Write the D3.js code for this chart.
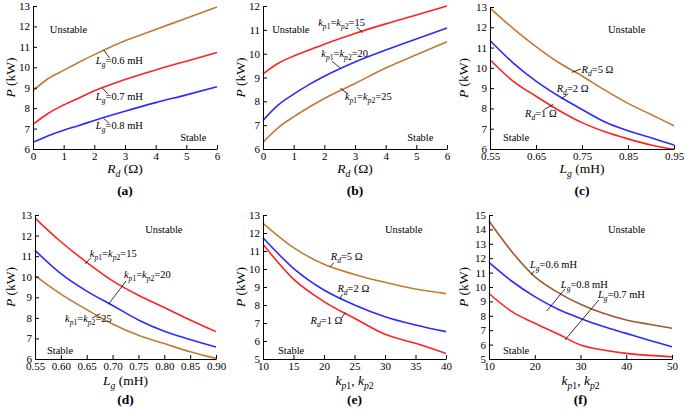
<!DOCTYPE html>
<html><head><meta charset="utf-8">
<script src="https://cdn.jsdelivr.net/npm/d3@7"></script>
<style>
body{margin:0;background:#fff}
svg text{font-family:'Liberation Serif','Tinos','Times New Roman','Times','DejaVu Serif',serif;fill:#000}
</style>
</head><body>
<svg id="c" width="685" height="410"></svg>
<script>
// ---------- DATA ----------
// (a) P vs Rd for different Lg
const aX = [0, 0.5, 1, 1.5, 2, 3, 4, 5, 6];
const aLg06 = [8.85, 9.45, 9.85, 10.25, 10.62, 11.3, 11.85, 12.4, 12.95];
const aLg07 = [7.2, 7.75, 8.15, 8.5, 8.85, 9.4, 9.87, 10.3, 10.72];
const aLg08 = [6.33, 6.65, 6.92, 7.15, 7.4, 7.85, 8.27, 8.65, 9.05];
// (b) P vs Rd for different kp
const bX = [0, 0.5, 1, 1.5, 2, 3, 4, 5, 6];
const bKp15 = [9.15, 9.6, 9.9, 10.15, 10.4, 10.85, 11.25, 11.62, 12.0];
const bKp20 = [7.2, 7.85, 8.3, 8.7, 9.05, 9.65, 10.15, 10.62, 11.08];
const bKp25 = [6.28, 6.9, 7.35, 7.75, 8.12, 8.75, 9.4, 9.95, 10.5];
// (c) P vs Lg for different Rd
const cX = [0.55, 0.60, 0.65, 0.70, 0.75, 0.80, 0.85, 0.90, 0.95];
const cRd5 = [12.95, 11.95, 11.05, 10.25, 9.6, 8.9, 8.25, 7.7, 7.15];
const cRd2 = [11.35, 10.25, 9.35, 8.6, 7.95, 7.33, 6.9, 6.55, 6.2];
const cRd1 = [10.4, 9.35, 8.6, 7.9, 7.3, 6.85, 6.5, 6.2, 5.98];
// (d) P vs Lg for different kp
const dX = [0.55, 0.60, 0.65, 0.70, 0.75, 0.80, 0.85, 0.90];
const dKp15 = [12.85, 11.7, 10.7, 9.8, 9.1, 8.5, 7.9, 7.33];
const dKp20 = [11.28, 10.15, 9.3, 8.6, 7.9, 7.35, 6.95, 6.58];
const dKp25 = [10.05, 9.15, 8.4, 7.7, 7.15, 6.75, 6.35, 6.03];
// (e) P vs kp for different Rd
const eX = [10, 15, 20, 25, 30, 35, 40];
const eRd5 = [12.54, 11.19, 10.26, 9.7, 9.26, 8.89, 8.63];
const eRd2 = [11.74, 10.04, 8.83, 8.0, 7.35, 6.89, 6.52];
const eRd1 = [11.37, 9.44, 8.19, 7.26, 6.37, 5.87, 5.31];
// (f) P vs kp for different Lg
const fX = [10, 15, 20, 25, 30, 35, 40, 45, 50];
const fLg06 = [14.58, 12.45, 10.72, 9.63, 8.8, 8.17, 7.71, 7.41, 7.13];
const fLg08 = [11.71, 10.4, 9.33, 8.47, 7.82, 7.25, 6.78, 6.3, 5.85];
const fLg07 = [9.55, 8.29, 7.48, 6.75, 5.97, 5.62, 5.39, 5.25, 5.16];

// tick labels
const xTicksA = ["0", "1", "2", "3", "4", "5", "6"];
const yTicksA = ["6", "7", "8", "9", "10", "11", "12", "13"];
const yTicksB = ["6", "7", "8", "9", "10", "11", "12"];
const xTicksC = ["0.55", "0.65", "0.75", "0.85", "0.95"];
const xTicksD = ["0.55", "0.60", "0.65", "0.70", "0.75", "0.80", "0.85", "0.90"];
const yTicksE = ["5", "6", "7", "8", "9", "10", "11", "12", "13"];
const xTicksE = ["10", "15", "20", "25", "30", "35", "40"];
const xTicksF = ["10", "20", "30", "40", "50"];
const yTicksF = ["5", "6", "7", "8", "9", "10", "11", "12", "13", "14", "15"];

// ---------- RICH TEXT PIECES ----------
const LG = [["L", 1], ["g", 1, 1]];
const RD = [["R", 1], ["d", 1, 1]];
const KP = [["k", 1], ["p", 1, 1], ["1", 0, 1], ["=", 0], ["k", 1], ["p", 1, 1], ["2", 0, 1], ["=", 0]];
const titleP = [["P", 1], [" (kW)", 0]];
const titleRd = [...RD, [" (Ω)", 0]];
const titleLg = [...LG, [" (mH)", 0]];
const titleKp = [["k", 1], ["p", 1, 1], ["1", 0, 1], [", ", 0], ["k", 1], ["p", 1, 1], ["2", 0, 1]];

const BROWN = "#c27a35", RED = "#ff2222", BLUE = "#2b2bff", DBROWN = "#a4562c";
const FONT = "'Liberation Serif','Tinos','Times New Roman','Times','DejaVu Serif',serif";
const TICK = 11, NOTE = 10.5, TITLE = 13.5;

// panel layout
const panels = [
  {id: "(a)", box: [33, 217, 6, 149], xd: [0, 6], yd: [6, 13], xt: xTicksA, yt: yTicksA, titleX: titleRd, tx: 11,
   series: [[aX, aLg06, BROWN], [aX, aLg07, RED], [aX, aLg08, BLUE]],
   notes: [["Unstable", 0.55, 11.68], ["Stable", 4.8, 6.39]],
   ann: [[[...LG, ["=0.6 mH", 0]], 2.05, 10.15, 2.3, 10.85, 2.5, 10.45],
         [[...LG, ["=0.7 mH", 0]], 2.05, 8.4, 2.25, 9.0, 2.45, 8.68],
         [[...LG, ["=0.8 mH", 0]], 2.05, 6.98, 2.3, 7.5, 2.48, 7.25]]},
  {id: "(b)", box: [263, 447, 6, 149], xd: [0, 6], yd: [6, 12], xt: xTicksA, yt: yTicksB, titleX: titleRd, tx: 241,
   series: [[bX, bKp15, RED], [bX, bKp20, BLUE], [bX, bKp25, BROWN]],
   notes: [["Unstable", 0.3, 10.87], ["Stable", 4.7, 6.34]],
   ann: [[[...KP, ["15", 0]], 1.8, 11.16, 3.05, 11.12, 3.25, 10.88],
         [[...KP, ["20", 0]], 1.9, 9.86, 2.25, 9.68, 2.52, 9.4],
         [[...KP, ["25", 0]], 2.67, 8.06, 2.52, 8.55, 2.78, 8.3]]},
  {id: "(c)", box: [490, 674, 7, 149], xd: [0.55, 0.95], yd: [6, 13], xt: xTicksC, yt: yTicksA, titleX: titleLg, tx: 464,
   series: [[cX, cRd5, BROWN], [cX, cRd2, BLUE], [cX, cRd1, RED]],
   notes: [["Unstable", 0.8065, 11.72], ["Stable", 0.578, 6.39]],
   ann: [[[...RD, ["=5 Ω", 0]], 0.749, 9.75, 0.728, 9.78, 0.748, 9.95],
         [[...RD, ["=2 Ω", 0]], 0.695, 8.82, 0.705, 8.47, 0.72, 8.72],
         [[...RD, ["=1 Ω", 0]], 0.626, 7.59, 0.668, 7.95, 0.688, 8.2]]},
  {id: "(d)", box: [35, 216, 215, 359], xd: [0.55, 0.90], yd: [6, 13], xt: xTicksD, yt: yTicksA, titleX: titleLg, tx: 11,
   series: [[dX, dKp15, RED], [dX, dKp20, BLUE], [dX, dKp25, BROWN]],
   notes: [["Unstable", 0.763, 12.13], ["Stable", 0.573, 6.24]],
   ann: [[[...KP, ["15", 0]], 0.656, 10.94, 0.647, 10.62, 0.658, 10.92],
         [[...KP, ["20", 0]], 0.722, 9.95, 0.692, 8.66, 0.726, 9.79],
         [[...KP, ["25", 0]], 0.608, 7.78, 0.66, 7.98, 0.676, 8.2]]},
  {id: "(e)", box: [263, 446, 215, 359], xd: [10, 40], yd: [5, 13], xt: xTicksE, yt: yTicksE, titleX: titleKp, tx: 241,
   series: [[eX, eRd5, BROWN], [eX, eRd2, BLUE], [eX, eRd1, RED]],
   notes: [["Unstable", 30, 12.0], ["Stable", 12.46, 5.28]],
   ann: [[[...RD, ["=5 Ω", 0]], 21.1, 10.5, 21.0, 10.12, 21.6, 10.35],
         [[...RD, ["=2 Ω", 0]], 22.2, 8.74, 22.6, 8.33, 23.0, 8.6],
         [[...RD, ["=1 Ω", 0]], 17.8, 6.93, 22.8, 7.25, 23.5, 7.58]]},
  {id: "(f)", box: [489, 672, 215, 359], xd: [10, 50], yd: [5, 15], xt: xTicksF, yt: yTicksF, titleX: titleKp, tx: 464,
   series: [[fX, fLg06, DBROWN], [fX, fLg08, BLUE], [fX, fLg07, RED]],
   notes: [["Unstable", 36, 13.75], ["Stable", 13.06, 5.35]],
   ann: [[[...LG, ["=0.6 mH", 0]], 18.96, 11.34, 19.3, 10.85, 19.9, 11.12],
         [[...LG, ["=0.8 mH", 0]], 25.7, 9.95, 22.6, 8.33, 26.6, 9.86],
         [[...LG, ["=0.7 mH", 0]], 33.8, 9.26, 26.6, 6.32, 34.0, 9.1]]}
];

// ---------- DRAW ----------
const svg = d3.select("#c");

function rich(g, x, y, segs, size, opts = {}) {
  const t = g.append("text").attr("x", x).attr("y", y).attr("font-size", size)
    .attr("font-family", FONT);
  if (opts.anchor) t.attr("text-anchor", opts.anchor);
  if (opts.weight) t.attr("font-weight", opts.weight);
  if (opts.transform) t.attr("transform", opts.transform);
  let inSub = false;
  const off = size * 0.28;
  segs.forEach(([s, it, sub]) => {
    const ts = t.append("tspan").text(s);
    if (it) ts.attr("font-style", "italic");
    if (sub) {
      ts.attr("font-size", size * 0.72);
      if (!inSub) { ts.attr("dy", off); inSub = true; }
    } else if (inSub) { ts.attr("dy", -off); inSub = false; }
  });
  return t;
}

panels.forEach(p => {
  const [x0, x1, yT, yB] = p.box;
  const x = d3.scaleLinear().domain(p.xd).range([x0, x1]);
  const y = d3.scaleLinear().domain(p.yd).range([yB, yT]);
  const g = svg.append("g");

  // curves
  const line = d3.line().x(d => x(d[0])).y(d => y(d[1])).curve(d3.curveMonotoneX);
  p.series.forEach(([xs, ys, col]) => {
    g.append("path").datum(xs.map((v, i) => [v, ys[i]]))
      .attr("d", line).attr("fill", "none").attr("stroke", col).attr("stroke-width", 1.6);
  });

  // axes
  const xa = d3.axisBottom(x).tickValues(p.xt.map(Number)).tickFormat((d, i) => p.xt[i])
    .tickSizeInner(-4).tickSizeOuter(0).tickPadding(3);
  const ya = d3.axisLeft(y).tickValues(p.yt.map(Number)).tickFormat((d, i) => p.yt[i])
    .tickSizeInner(-4).tickSizeOuter(0).tickPadding(3);
  const gx = g.append("g").attr("transform", `translate(0,${yB})`).call(xa);
  const gy = g.append("g").attr("transform", `translate(${x0},0)`).call(ya);
  [gx, gy].forEach(a => {
    a.attr("font-family", FONT).attr("font-size", TICK);
    a.selectAll("path,line").attr("stroke", "#000").attr("stroke-width", 1);
    a.selectAll("text").attr("font-size", TICK).attr("fill", "#000");
  });

  // titles
  const top = p.id === "(a)" || p.id === "(b)" || p.id === "(c)";
  rich(g, (x0 + x1) / 2, yB + (top ? 24 : 26), p.titleX, TITLE, {anchor: "middle"});
  rich(g, 0, 0, titleP, TITLE, {anchor: "middle",
    transform: `translate(${p.tx + 4},${(yT + yB) / 2}) rotate(-90)`});
  rich(g, (x0 + x1) / 2, yB + (top ? 46 : 45), [[p.id, 0]], TITLE, {anchor: "middle", weight: "bold"});

  // region notes
  p.notes.forEach(([s, vx, vy]) => rich(g, x(vx), y(vy), [[s, 0]], NOTE));

  // annotations with leaders
  p.ann.forEach(([segs, tx, ty, lx1, ly1, lx2, ly2]) => {
    g.append("line").attr("x1", x(lx1)).attr("y1", y(ly1)).attr("x2", x(lx2)).attr("y2", y(ly2))
      .attr("stroke", "#000").attr("stroke-width", 0.8);
    rich(g, x(tx), y(ty), segs, NOTE);
  });
});
</script>
</body></html>
